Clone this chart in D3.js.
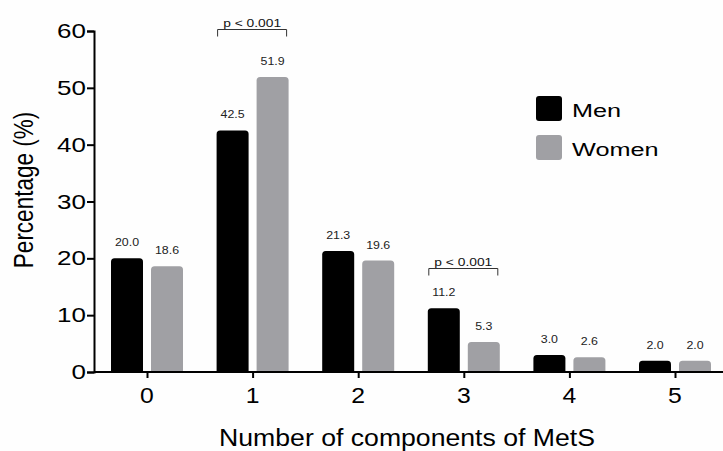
<!DOCTYPE html>
<html>
<head>
<meta charset="utf-8">
<script src="https://cdn.jsdelivr.net/npm/d3@7"></script>
<style>
  body { margin: 0; background: #fefefe; }
  svg { display: block; }
  text { font-family: "Liberation Sans", Arial, sans-serif; }
</style>
</head>
<body>
<svg id="chart" width="723" height="451"></svg>
<script>
const categories = ['0', '1', '2', '3', '4', '5']
const series = ['Men', 'Women']
const men = [20.0, 42.5, 21.3, 11.2, 3.0, 2.0]
const women = [18.6, 51.9, 19.6, 5.3, 2.6, 2.0]
const yTicks = [0, 10, 20, 30, 40, 50, 60]
// significance brackets: category and level (in % units)
const brackets = [
  { cat: '1', level: 60.3, label: 'p < 0.001' },
  { cat: '3', level: 18.3, label: 'p < 0.001' }
]

const colors = { Men: '#000000', Women: '#a0a0a4' }

const svg = d3.select('#chart')
const x = d3.scalePoint().domain(categories).range([147, 675])
const xSub = d3.scaleBand().domain(series).range([-36, 36]).paddingInner(0.2)
const y = d3.scaleLinear().domain([0, 60]).range([372, 31])

// text helper; the original figure is stretched along x, so text is too
function stext(g, px, py, str, size, sx, anchor, rot) {
  let t = g.append('g')
    .attr('transform', `translate(${px},${py}) scale(${sx},1)` + (rot ? ` rotate(${rot})` : ''))
  t.append('text')
    .attr('text-anchor', anchor || 'middle')
    .attr('font-size', size)
    .attr('fill', '#000')
    .text(str)
  return t
}

function topRounded(x0, y0, w, h, r) {
  r = Math.min(r, h)
  return `M${x0},${y0 + h}V${y0 + r}Q${x0},${y0} ${x0 + r},${y0}H${x0 + w - r}Q${x0 + w},${y0} ${x0 + w},${y0 + r}V${y0 + h}Z`
}

// bars
let rows = []
categories.forEach((c, i) => {
  rows.push({ cat: c, s: 'Men', v: men[i] })
  rows.push({ cat: c, s: 'Women', v: women[i] })
})

svg.append('g').selectAll('path')
  .data(rows)
  .enter().append('path')
  .attr('fill', d => colors[d.s])
  .attr('d', d => topRounded(x(d.cat) + xSub(d.s), y(d.v), xSub.bandwidth(), y(0) - y(d.v), 3.5))

let labels = svg.append('g')
rows.forEach(d => {
  stext(labels, x(d.cat) + xSub(d.s) + xSub.bandwidth() / 2, y(d.v) - 12, d.v.toFixed(1), 10.5, 1.18)
    .select('text').attr('fill', '#222')
})

// axes
const yAxis = svg.append('g').attr('transform', 'translate(94,0)')
  .call(d3.axisLeft(y).tickValues(yTicks).tickSize(7).tickFormat(d3.format('d')))
yAxis.selectAll('text').remove()
yTicks.forEach(t => {
  stext(yAxis, -8, y(t) + 7, String(t), 20, 1.3, 'end')
})

const xAxis = svg.append('g').attr('transform', 'translate(0,372)')
  .call(d3.axisBottom(x).tickSize(6).tickSizeOuter(0))
xAxis.select('.domain').attr('d', 'M94,0H723')
xAxis.selectAll('text').remove()
categories.forEach(c => {
  stext(xAxis, x(c), 30.5, c, 22.5, 1.1)
})

svg.selectAll('.domain, .tick line').attr('stroke', '#000').attr('stroke-width', 2)

// axis titles
stext(svg, 407, 445.5, 'Number of components of MetS', 24, 1.11)
stext(svg, 33, 190, 'Percentage (%)', 22.5, 1.2, 'middle', -90)

// legend
let legend = svg.append('g')
series.forEach((s, i) => {
  legend.append('rect')
    .attr('x', 536).attr('y', 96 + i * 39)
    .attr('width', 26).attr('height', 25)
    .attr('rx', 3)
    .attr('fill', colors[s])
  stext(legend, 572, 117 + i * 39, s, 19, 1.33, 'start')
})

// brackets
let br = svg.append('g')
brackets.forEach(b => {
  let x0 = x(b.cat) - 35, x1 = x(b.cat) + 34, yy = Math.round(y(b.level)) + 0.5
  br.append('path')
    .attr('d', `M${x0},${yy + 7}V${yy}H${x1}V${yy + 7}`)
    .attr('fill', 'none').attr('stroke', '#333').attr('stroke-width', 1)
  stext(br, (x0 + x1) / 2, yy - 3, b.label, 11.5, 1.2).select('text').attr('fill', '#111')
})
</script>
</body>
</html>
